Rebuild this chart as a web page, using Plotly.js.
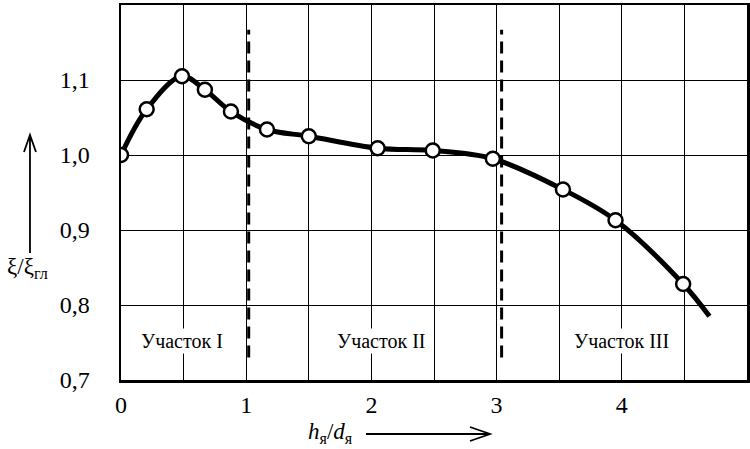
<!DOCTYPE html>
<html>
<head>
<meta charset="utf-8">
<script src="https://cdn.plot.ly/plotly-3.0.1.min.js"></script>
<style>html,body{margin:0;padding:0;background:#fff;}#chart{width:750px;height:449px;}</style>
</head>
<body>
<div id="chart"></div>
<script>
// measured points (h_я/d_я, ξ/ξгл)
const pointX = [0, 0.205, 0.487, 0.67, 0.878, 1.166, 1.50, 2.05, 2.49, 2.97, 3.53, 3.95, 4.49];
const pointY = [1.0, 1.061, 1.105, 1.087, 1.058, 1.034, 1.025, 1.009, 1.006, 0.995, 0.954, 0.913, 0.828];
// curve continues past the last measured point
const curveEndX = [4.70];
const curveEndY = [0.785];
// section boundaries and labels
const boundaryX = [1.02, 3.04];
const sectionLabels = ["Участок I", "Участок II", "Участок III"];
const sectionLabelX = [0.49, 2.08, 4.0];
const sectionLabelY = 0.752;
const xTickVals = [0, 1, 2, 3, 4];
const yTickVals = [0.7, 0.8, 0.9, 1.0, 1.1];

const serif = "Liberation Serif";

const curve = {
  x: pointX.concat(curveEndX),
  y: pointY.concat(curveEndY),
  mode: "lines",
  line: {color: "#000", width: 5, shape: "spline", smoothing: 1},
  hoverinfo: "skip",
  showlegend: false
};
const markers = {
  x: pointX, y: pointY,
  mode: "markers",
  marker: {size: 14, color: "#fff", line: {color: "#000", width: 2.5}},
  showlegend: false
};

const shapes = boundaryX.map(bx => ({
  type: "line", xref: "x", yref: "y",
  x0: bx, x1: bx, y0: 0.73, y1: 1.167,
  line: {color: "#000", width: 3, dash: "12px,7px"},
  layer: "above"
}));
// axis-title arrows (paper coords)
shapes.push({type: "path", xref: "paper", yref: "paper",
  path: "M -0.1454 0.3387 L -0.1454 0.6533 M -0.1550 0.608 L -0.1454 0.6533 L -0.1358 0.608",
  line: {color: "#000", width: 1.8}});
shapes.push({type: "path", xref: "paper", yref: "paper",
  path: "M 0.3914 -0.144 L 0.5895 -0.144 M 0.5575 -0.1253 L 0.5895 -0.144 L 0.5575 -0.1627",
  line: {color: "#000", width: 1.8}});

const annotations = sectionLabels.map((t, i) => ({
  x: sectionLabelX[i], y: sectionLabelY, xref: "x", yref: "y",
  text: t, showarrow: false, bgcolor: "#fff",
  xanchor: "center", yanchor: "middle",
  font: {family: serif, size: 20, color: "#000"}
}));
annotations.push({xref: "paper", yref: "paper", x: -0.1486, y: 0.2987,
  xanchor: "center", yanchor: "middle",
  text: "ξ/ξ<sub>гл</sub>", showarrow: false,
  font: {family: serif, size: 23, color: "#000"}});
annotations.push({xref: "paper", yref: "paper", x: 0.3339, y: -0.1413,
  xanchor: "center", yanchor: "middle",
  text: "<i>h</i><sub>я</sub>/<i>d</i><sub>я</sub>", showarrow: false,
  font: {family: serif, size: 23, color: "#000"}});

const layout = {
  width: 750, height: 449,
  margin: {l: 121, r: 3, t: 5, b: 69},
  paper_bgcolor: "#fff", plot_bgcolor: "#fff",
  separators: ", ",
  showlegend: false,
  xaxis: {
    range: [0, 5], tickvals: xTickVals, ticktext: xTickVals.map(String),
    showgrid: true, gridcolor: "#000", gridwidth: 1,
    minor: {dtick: 0.5, tick0: 0, showgrid: true, gridcolor: "#000", gridwidth: 1},
    showline: true, mirror: true, linecolor: "#000", linewidth: 2.5,
    zeroline: false, ticks: "", ticklabelstandoff: 2,
    tickfont: {family: serif, size: 24, color: "#000"}
  },
  yaxis: {
    range: [0.7, 1.2], tickvals: yTickVals, tickformat: ".1f",
    showgrid: true, gridcolor: "#000", gridwidth: 1,
    minor: {dtick: 0.1, tick0: 0.7, showgrid: true, gridcolor: "#000", gridwidth: 1},
    showline: true, mirror: true, linecolor: "#000", linewidth: 2.5,
    zeroline: false, ticks: "", ticklabelstandoff: 24,
    tickfont: {family: serif, size: 24, color: "#000"}
  },
  shapes: shapes,
  annotations: annotations
};

Plotly.newPlot("chart", [curve, markers], layout, {displayModeBar: false, staticPlot: true});
</script>
</body>
</html>
